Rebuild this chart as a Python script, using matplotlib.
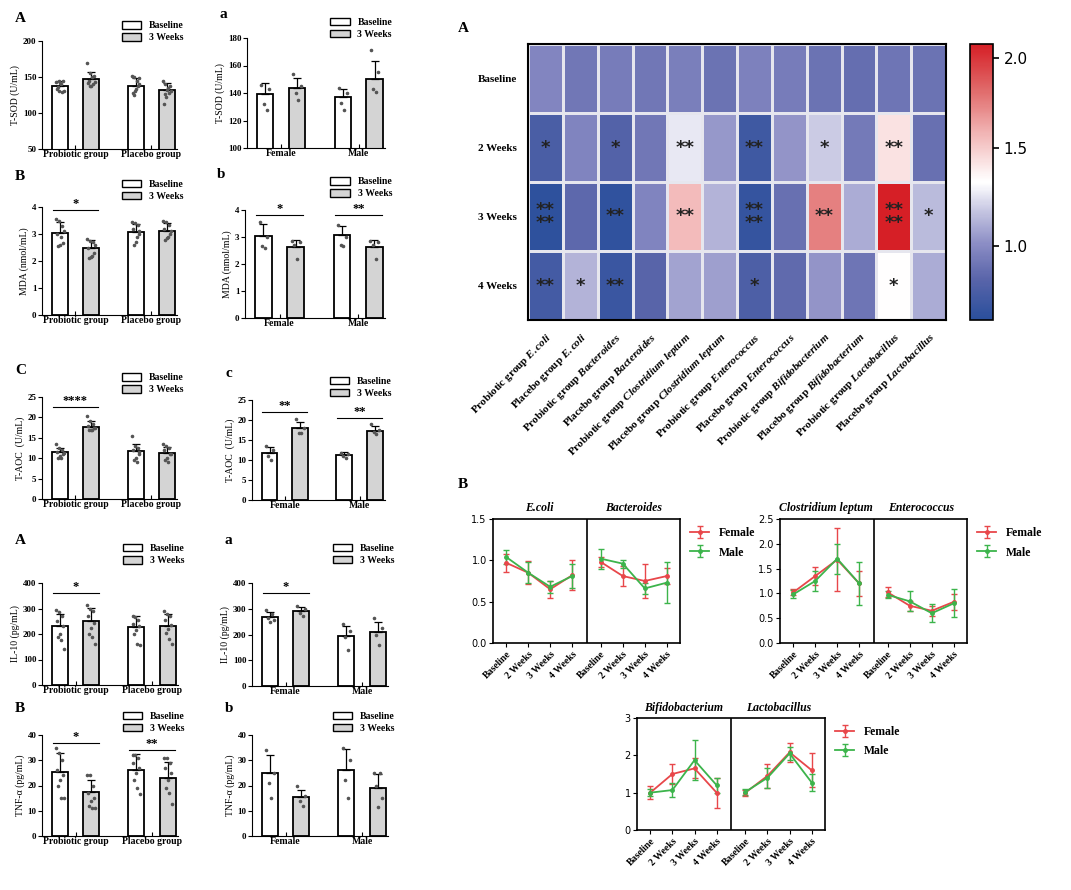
import matplotlib
matplotlib.use("Agg")
import matplotlib.pyplot as plt
import numpy as np
from matplotlib.colors import LinearSegmentedColormap, TwoSlopeNorm
from matplotlib.patches import Patch

plt.rcParams['font.family'] = 'Liberation Serif'
plt.rcParams['font.weight'] = 'bold'
plt.rcParams['mathtext.fontset'] = 'custom'
plt.rcParams['mathtext.it'] = 'Liberation Serif:italic:bold'
plt.rcParams['mathtext.rm'] = 'Liberation Serif:bold'

W, H = 1071, 890
fig = plt.figure(figsize=(W/100, H/100), dpi=100)

def ax_px(x0, y0, x1, y1):
    return fig.add_axes([x0/W, 1-y1/H, (x1-x0)/W, (y1-y0)/H])

# ---------------- bar chart data ----------------
groups_trt = ["Probiotic group", "Placebo group"]
groups_sex = ["Female", "Male"]
series_names = ["Baseline", "3 Weeks"]

sod_grp_mean = [[138, 147], [137, 132]]
sod_grp_err = [[6, 10], [12, 10]]
sod_grp_pts = [[[143,145,140,130,129,131,133,136,141,144],[170,155,150,143,140,137,141,145,138,152]],
               [[152,150,145,140,138,130,128,125,133,148],[144,140,135,130,128,122,113,126,132,138]]]
sod_sex_mean = [[139, 144], [137, 150]]
sod_sex_err = [[8, 7], [6, 13]]
sod_sex_pts = [[[146,143,132,128],[154,145,140,135]], [[144,140,133,128],[171,155,143,141]]]

mda_grp_mean = [[3.05, 2.47], [3.08, 3.1]]
mda_grp_err = [[0.38, 0.3], [0.3, 0.3]]
mda_grp_pts = [[[3.55,3.5,3.3,3.0,2.65,2.6,2.57,2.9,3.1],[2.8,2.75,2.7,2.5,2.3,2.15,2.1,2.2,2.6]],
               [[3.45,3.4,3.35,3.2,3.0,2.7,2.6,2.9,3.1],[3.5,3.45,3.35,3.2,3.0,2.85,2.78,2.9,3.1]]]
mda_sex_mean = [[3.05, 2.63], [3.07, 2.63]]
mda_sex_err = [[0.45, 0.25], [0.35, 0.25]]
mda_sex_pts = [[[3.55,3.0,2.65,2.6],[2.85,2.8,2.7,2.2]], [[3.45,3.0,2.7,2.65],[2.85,2.8,2.7,2.2]]]

aoc_grp_mean = [[11.5, 17.6], [11.7, 11.3]]
aoc_grp_err = [[1.0, 1.4], [1.7, 1.5]]
aoc_grp_pts = [[[13.5,12.5,12,11.5,11,10.5,10,10,11.2],[20.3,19,18.5,18,17.5,17,16.8,16.8,17.3]],
               [[15.5,13,12.5,12,11.5,10,9.5,9,11],[13.5,13,12.5,12,11,10,9.5,9,11]]]
aoc_sex_mean = [[11.8, 18.0], [11.3, 17.3]]
aoc_sex_err = [[1.5, 1.6], [0.6, 1.1]]
aoc_sex_pts = [[[13.5,12.5,11,10],[20.3,18,16.8,16.8]], [[11.8,11.5,11,10.5],[19,17.5,17,16.5]]]

il10_grp_mean = [[230, 250], [228, 233]]
il10_grp_err = [[50, 52], [42, 45]]
il10_grp_pts = [[[295,285,270,250,230,200,190,175,140],[315,300,290,270,245,225,200,190,160]],
                [[270,265,255,240,230,215,200,160,155],[290,280,270,255,235,220,205,180,160]]]
il10_sex_mean = [[267, 292], [193, 208]]
il10_sex_err = [[20, 15], [40, 40]]
il10_sex_pts = [[[295,280,265,255,250],[310,300,285,270]], [[240,215,190,140],[265,225,200,160]]]

tnf_grp_mean = [[25.5, 17.3], [26.3, 22.8]]
tnf_grp_err = [[7.5, 4.8], [6.0, 6.5]]
tnf_grp_pts = [[[35,33,30,26,24,22,20,15,15],[24,24,20,17,15,14,12,11,11]],
               [[32,32,31,29,27,25,22,19,16.5],[31,31,29,27,25,22,19,17,12.5]]]
tnf_sex_mean = [[24.8, 15.3], [26.3, 19.2]]
tnf_sex_err = [[7.3, 3.0], [8.0, 5.5]]
tnf_sex_pts = [[[34,25,21,15],[20,16,14,12]], [[35,30,22,15],[25,25,20,15,11.5]]]

def bar_panel(box, letter, labels, means, errs, pts, ylim, yticks, ylabel, sigs, legy=1.0):
    ax = ax_px(*box)
    cols = ['white', '#d4d4d4']
    for g in range(2):
        for s in range(2):
            x = g + (-0.205 if s == 0 else 0.205)
            ax.bar(x, means[g][s], width=0.21, color=cols[s], edgecolor='black', linewidth=1.3, zorder=2)
            ax.errorbar(x, means[g][s], yerr=[[0], [errs[g][s]]], fmt='none', ecolor='black',
                        elinewidth=0.9, capsize=3, capthick=0.9, zorder=3)
            p = pts[g][s]
            xs = x + np.linspace(-0.05, 0.05, len(p))[np.argsort(np.arange(len(p)) % 3)]
            ax.scatter(xs, p, s=2.5, color='#555555', zorder=4)
    for (g, y, t) in sigs:
        ax.plot([g-0.3, g+0.3], [y, y], color='black', lw=0.8)
        ax.text(g, y, t, ha='center', va='bottom', fontsize=9)
    ax.set_xlim(-0.44, 1.34)
    ax.set_ylim(*ylim)
    ax.set_yticks(yticks)
    ax.set_xticks([0, 1])
    ax.set_xticklabels(labels, fontsize=7)
    ax.tick_params(axis='x', direction='in', length=3, pad=1)
    ax.tick_params(axis='y', labelsize=6.5, length=3, pad=1)
    for sp in ['top', 'right']:
        ax.spines[sp].set_visible(False)
    ax.set_ylabel(ylabel, fontsize=7, labelpad=2)
    ax.text(-0.2, legy + 0.18, letter, transform=ax.transAxes, fontsize=11, fontweight='bold')
    handles = [Patch(facecolor=cols[i], edgecolor='black', label=series_names[i]) for i in range(2)]
    ax.legend(handles=handles, loc='upper right', bbox_to_anchor=(1.08, legy + 0.22), frameon=False,
              fontsize=7, handlelength=2.0, handleheight=0.8, borderaxespad=0, labelspacing=0.3)
    return ax

bar_panel((42, 41, 177, 149), 'A', groups_trt, sod_grp_mean, sod_grp_err, sod_grp_pts, (50, 200), [50, 100, 150, 200], 'T-SOD (U/mL)', [])
bar_panel((247, 38, 385, 148), 'a', groups_sex, sod_sex_mean, sod_sex_err, sod_sex_pts, (100, 180), [100, 120, 140, 160, 180], 'T-SOD (U/mL)', [])
bar_panel((42, 207, 177, 315), 'B', groups_trt, mda_grp_mean, mda_grp_err, mda_grp_pts, (0, 4), [0, 1, 2, 3, 4], 'MDA (nmol/mL)', [(0, 3.9, '*')], legy=1.07)
bar_panel((245, 210, 385, 318), 'b', groups_sex, mda_sex_mean, mda_sex_err, mda_sex_pts, (0, 4), [0, 1, 2, 3, 4], 'MDA (nmol/mL)', [(0, 3.8, '*'), (1, 3.8, '**')], legy=1.12)
bar_panel((42, 397, 177, 499), 'C', groups_trt, aoc_grp_mean, aoc_grp_err, aoc_grp_pts, (0, 25), [0, 5, 10, 15, 20, 25], 'T-AOC  (U/mL)', [(0, 22.5, '****')], legy=1.05)
bar_panel((252, 400, 385, 500), 'c', groups_sex, aoc_sex_mean, aoc_sex_err, aoc_sex_pts, (0, 25), [0, 5, 10, 15, 20, 25], 'T-AOC  (U/mL)', [(0, 22, '**'), (1, 20.5, '**')], legy=1.05)
bar_panel((42, 583, 178, 685), 'A', groups_trt, il10_grp_mean, il10_grp_err, il10_grp_pts, (0, 400), [0, 100, 200, 300, 400], 'IL-10 (pg/mL)', [(0, 360, '*')], legy=1.2)
bar_panel((252, 583, 388, 686), 'a', groups_sex, il10_sex_mean, il10_sex_err, il10_sex_pts, (0, 400), [0, 100, 200, 300, 400], 'IL-10 (pg/mL)', [(0, 360, '*')], legy=1.2)
bar_panel((42, 735, 178, 836), 'B', groups_trt, tnf_grp_mean, tnf_grp_err, tnf_grp_pts, (0, 40), [0, 10, 20, 30, 40], 'TNF-α (pg/mL)', [(0, 37, '*'), (1, 34, '**')], legy=1.05)
bar_panel((252, 735, 388, 836), 'b', groups_sex, tnf_sex_mean, tnf_sex_err, tnf_sex_pts, (0, 40), [0, 10, 20, 30, 40], 'TNF-α (pg/mL)', [], legy=1.05)

# ---------------- heatmap ----------------
hm_rows = ["Baseline", "2 Weeks", "3 Weeks", "4 Weeks"]
hm_cols = ["Probiotic group $\\mathit{E.coli}$", "Placebo group $\\mathit{E.coli}$",
           "Probiotic group $\\mathit{Bacteroides}$", "Placebo group $\\mathit{Bacteroides}$",
           "Probiotic group $\\mathit{Clostridium\\ leptum}$", "Placebo group $\\mathit{Clostridium\\ leptum}$",
           "Probiotic group $\\mathit{Enterococcus}$", "Placebo group $\\mathit{Enterococcus}$",
           "Probiotic group $\\mathit{Bifidobacterium}$", "Placebo group $\\mathit{Bifidobacterium}$",
           "Probiotic group $\\mathit{Lactobacillus}$", "Placebo group $\\mathit{Lactobacillus}$"]
hm_vals = [[0.98, 0.92, 0.94, 0.92, 0.95, 0.90, 0.96, 0.94, 0.90, 0.88, 0.91, 0.90],
           [0.78, 0.97, 0.81, 0.92, 1.25, 1.04, 0.73, 1.03, 1.18, 0.93, 1.42, 0.89],
           [0.66, 0.85, 0.67, 0.97, 1.56, 1.12, 0.69, 0.89, 1.75, 1.10, 2.08, 1.14],
           [0.75, 1.12, 0.71, 0.83, 1.07, 1.06, 0.79, 0.86, 1.03, 0.91, 1.32, 1.10]]
hm_stars = [["", "", "", "", "", "", "", "", "", "", "", ""],
            ["*", "", "*", "", "**", "", "**", "", "*", "", "**", ""],
            ["**\n**", "", "**", "", "**", "", "**\n**", "", "**", "", "**\n**", "*"],
            ["**", "*", "**", "", "", "", "*", "", "", "", "*", ""]]

cmap = LinearSegmentedColormap.from_list('bwr2', [(0.0, '#2a4f9c'), (0.3, '#5a65aa'), (0.55, '#8a8cc4'),
                                                   (0.8, '#c6c6e2'), (1.0, '#ffffff')])
cmap_r = LinearSegmentedColormap.from_list('r', ['#ffffff', '#f2b8b8', '#e06a6a', '#d61f26'])
full = LinearSegmentedColormap.from_list('full', [cmap(x) for x in np.linspace(0, 1, 64)] + [cmap_r(x) for x in np.linspace(0, 1, 64)])
norm = TwoSlopeNorm(vmin=0.64, vcenter=1.31, vmax=2.08)
axh = ax_px(528, 44, 946, 320)
im = axh.pcolormesh(np.array(hm_vals), cmap=full, norm=norm, edgecolors='#e6e6ee', linewidth=0.8)
axh.set_ylim(4, 0)
axh.set_xlim(0, 12)
for i in range(4):
    for j in range(12):
        if hm_stars[i][j]:
            axh.text(j + 0.5, i + 0.5, hm_stars[i][j], ha='center', va='center', fontsize=13,
                     fontfamily='DejaVu Sans', color='#222222', linespacing=0.6)
axh.set_yticks(np.arange(4) + 0.5)
axh.set_yticklabels(hm_rows, fontsize=8)
axh.set_xticks(np.arange(12) + 0.5)
axh.set_xticklabels(hm_cols, rotation=45, ha='right', rotation_mode='anchor', fontsize=8)
axh.tick_params(length=0, pad=8)
for sp in axh.spines.values():
    sp.set_linewidth(1.5)
fig.text(458/W, 1-32/H, 'A', fontsize=11, fontweight='bold')
cax = ax_px(970, 44, 993, 320)
cb = fig.colorbar(im, cax=cax)
cb.set_ticks([1.0, 1.5, 2.0])
cb.ax.tick_params(labelsize=11, length=4, width=1.2)
for t in cb.ax.get_yticklabels():
    t.set_fontfamily('DejaVu Sans'); t.set_fontweight('normal')
cb.outline.set_linewidth(1.2)

# ---------------- line charts ----------------
times = ["Baseline", "2 Weeks", "3 Weeks", "4 Weeks"]
ecoli_f = [0.97, 0.85, 0.65, 0.82]; ecoli_f_err = [0.11, 0.14, 0.10, 0.18]
ecoli_m = [1.04, 0.85, 0.68, 0.81]; ecoli_m_err = [0.09, 0.13, 0.07, 0.15]
bact_f = [0.98, 0.81, 0.75, 0.81]; bact_f_err = [0.06, 0.12, 0.20, 0.10]
bact_m = [1.02, 0.96, 0.66, 0.73]; bact_m_err = [0.12, 0.05, 0.07, 0.25]
clost_f = [1.02, 1.35, 1.68, 1.20]; clost_f_err = [0.06, 0.18, 0.64, 0.25]
clost_m = [0.98, 1.25, 1.70, 1.20]; clost_m_err = [0.08, 0.20, 0.30, 0.44]
entero_f = [1.02, 0.75, 0.65, 0.83]; entero_f_err = [0.10, 0.10, 0.10, 0.16]
entero_m = [0.97, 0.84, 0.60, 0.80]; entero_m_err = [0.07, 0.20, 0.18, 0.28]
bifido_f = [1.00, 1.50, 1.65, 1.00]; bifido_f_err = [0.17, 0.27, 0.27, 0.40]
bifido_m = [1.00, 1.07, 1.87, 1.20]; bifido_m_err = [0.10, 0.18, 0.53, 0.20]
lacto_f = [1.00, 1.45, 2.08, 1.60]; lacto_f_err = [0.08, 0.33, 0.25, 0.45]
lacto_m = [1.02, 1.40, 2.05, 1.27]; lacto_m_err = [0.07, 0.27, 0.17, 0.22]

RED, GREEN = '#e8474a', '#3cb44b'

def line_panel(box, names, sets, ylim, yticks, fmt, legpos):
    ax = ax_px(*box)
    for k, (f, fe, m, me) in enumerate(sets):
        xs = np.arange(4) + 4.3 * k
        ax.errorbar(xs, f, yerr=fe, color=RED, marker='o', ms=2.5, lw=1.3, capsize=2, elinewidth=1,
                    label='Female' if k == 0 else None)
        ax.errorbar(xs, m, yerr=me, color=GREEN, marker='o', ms=2.5, lw=1.3, capsize=2, elinewidth=1,
                    label='Male' if k == 0 else None)
        ax.text(1.5 + 4.3 * k, ylim[1] * 1.04, names[k], ha='center', va='bottom', fontsize=8.5, style='italic')
    ax.axvline(3.65, color='black', lw=1.2)
    ax.set_xlim(-0.6, 7.9)
    ax.set_ylim(*ylim)
    ax.set_yticks(yticks)
    ax.set_yticklabels([fmt.format(v) for v in yticks], fontsize=7, fontfamily='DejaVu Sans', fontweight='normal')
    ax.set_xticks(list(np.arange(4)) + list(np.arange(4) + 4.3))
    ax.set_xticklabels(times * 2, rotation=45, ha='right', rotation_mode='anchor', fontsize=7)
    ax.tick_params(length=3, pad=1.5)
    for sp in ax.spines.values():
        sp.set_linewidth(1.2)
    ax.legend(loc='upper left', bbox_to_anchor=legpos, frameon=False, fontsize=8.5, handlelength=1.6,
              borderaxespad=0, labelspacing=0.6)
    return ax

fig.text(458/W, 1-488/H, 'B', fontsize=11, fontweight='bold')
line_panel((493, 519, 680, 643), ["E.coli", "Bacteroides"],
           [(ecoli_f, ecoli_f_err, ecoli_m, ecoli_m_err), (bact_f, bact_f_err, bact_m, bact_m_err)],
           (0, 1.5), [0.0, 0.5, 1.0, 1.5], '{:.1f}', (1.03, 0.97))
line_panel((780, 519, 967, 643), ["Clostridium leptum", "Enterococcus"],
           [(clost_f, clost_f_err, clost_m, clost_m_err), (entero_f, entero_f_err, entero_m, entero_m_err)],
           (0, 2.5), [0.0, 0.5, 1.0, 1.5, 2.0, 2.5], '{:.1f}', (1.03, 0.97))
line_panel((637, 718, 825, 830), ["Bifidobacterium", "Lactobacillus"],
           [(bifido_f, bifido_f_err, bifido_m, bifido_m_err), (lacto_f, lacto_f_err, lacto_m, lacto_m_err)],
           (0, 3), [0, 1, 2, 3], '{:.0f}', (1.03, 0.97))

fig.savefig('out.png', dpi=100)
